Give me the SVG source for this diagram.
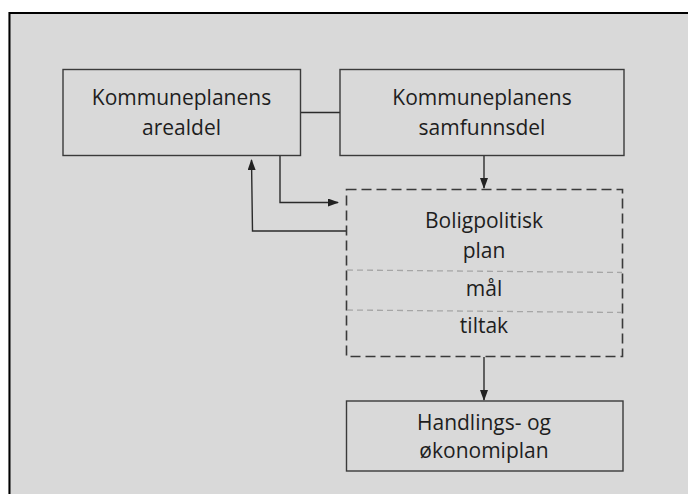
<svg xmlns="http://www.w3.org/2000/svg" width="688" height="494" viewBox="0 0 688 494">
<defs>
<style>
.box{fill:none;stroke:#3a3a3a;stroke-width:1.4}
.dash{fill:none;stroke:#3a3a3a;stroke-width:1.6;stroke-dasharray:10,5}
.sep{fill:none;stroke:#a6a6a6;stroke-width:1.3;stroke-dasharray:6,4}
.ln{fill:none;stroke:#2b2b2b;stroke-width:1.4}
text{font-family:"Open Sans","DejaVu Sans",sans-serif;font-size:21px;fill:#1e1e1e;text-anchor:middle}
</style>
<marker id="ah" markerWidth="11" markerHeight="8" refX="10" refY="4" orient="auto" markerUnits="userSpaceOnUse">
<path d="M0,0 L11,4 L0,8 Z" fill="#222"/>
</marker>
</defs>
<rect x="0" y="0" width="688" height="494" fill="#ffffff"/>
<rect x="8" y="12" width="680" height="482" fill="#d9d9d9"/>
<path d="M9.5,494 V13 H688" fill="none" stroke="#000" stroke-width="2"/>
<g id="connectors">
<line class="ln" x1="300.5" y1="112.5" x2="340" y2="112.5"/>
<path class="ln" d="M484,156 V188" marker-end="url(#ah)"/>
<path class="ln" d="M280,156 V202.5 H338" marker-end="url(#ah)"/>
<path class="ln" d="M346,231 H252.5 L251.5,160" marker-end="url(#ah)"/>
<path class="ln" d="M484,357 V400" marker-end="url(#ah)"/>
</g>
<g id="arealdel">
<rect class="box" x="63" y="69.5" width="237.5" height="86"/>
<text x="181.5" y="105">Kommuneplanens</text>
<text x="181.5" y="135">arealdel</text>
</g>
<g id="samfunnsdel">
<rect class="box" x="340" y="69.5" width="284" height="86"/>
<text x="482" y="105">Kommuneplanens</text>
<text x="482" y="135">samfunnsdel</text>
</g>
<g id="boligpolitisk">
<rect class="dash" x="346.5" y="189.5" width="276" height="167"/>
<path class="sep" d="M347,270 L622,272.5"/>
<path class="sep" d="M347,310 L622,312.5"/>
<text x="484" y="228">Boligpolitisk</text>
<text x="484" y="258">plan</text>
<text x="484" y="296">mål</text>
<text x="484" y="333">tiltak</text>
</g>
<g id="handlingsplan">
<rect class="box" x="346.5" y="401" width="276.5" height="70"/>
<text x="484" y="430">Handlings- og</text>
<text x="484" y="458">økonomiplan</text>
</g>
</svg>
